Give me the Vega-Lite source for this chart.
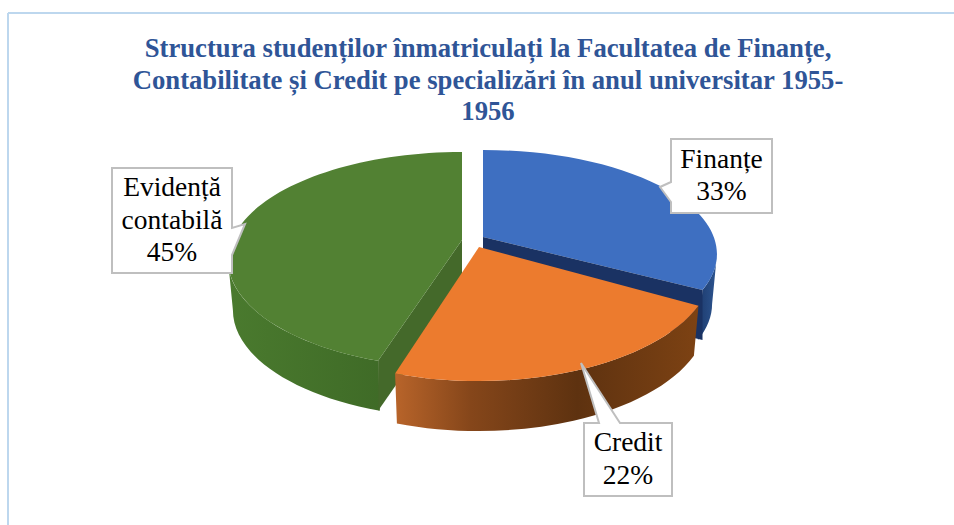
{
"$schema":"https://vega.github.io/schema/vega-lite/v6.json",
"width":946,"height":512,
"autosize":{"type":"none"},
"padding":{"left":8,"top":13,"right":0,"bottom":0},
"background":"white",
"config":{"view":{"stroke":null}},
"title":{"text":["Structura studenților înmatriculați la Facultatea de Finanțe,","Contabilitate și Credit pe specializări în anul universitar 1955-","1956"],
"font":"Liberation Serif","fontWeight":"bold","fontSize":26.7,"color":"#2F5597","lineHeight":31.5,"anchor":"middle","frame":"group","baseline":"alphabetic","offset":0,"dx":7,"dy":135},
"data":{"values":[{"label":"Finanțe","value":33},{"label":"Credit","value":22},{"label":"Evidență contabilă","value":45}]},
"transform":[
{"joinaggregate":[{"op":"sum","field":"value","as":"total"}]},
{"window":[{"op":"sum","field":"value","as":"cum"}]},
{"calculate":"(datum.cum-datum.value)/datum.total*2*PI","as":"a1"},
{"calculate":"datum.cum/datum.total*2*PI","as":"a2"},
{"calculate":"datum.a1-0.17*sin(datum.a1)","as":"t1"},
{"calculate":"datum.a2-0.17*sin(datum.a2)","as":"t2"},
{"calculate":"datum.label=='Finanțe'?483:datum.label=='Credit'?479:462","as":"cx"},
{"calculate":"datum.label=='Finanțe'?254:datum.label=='Credit'?266:260","as":"cy"},
{"calculate":"datum.label=='Finanțe'?104:datum.label=='Credit'?115:108","as":"ry"},
{"calculate":"datum.label=='Finanțe'?-17:datum.label=='Credit'?-19:-20","as":"ay"},
{"calculate":"datum.cx-8","as":"sx"},
{"calculate":"datum.cy-13","as":"sy"},
{"calculate":"round(234*sin(datum.t1)*10)/10","as":"x1"},
{"calculate":"round(-datum.ry*cos(datum.t1)*10)/10","as":"y1"},
{"calculate":"round(234*sin(datum.t2)*10)/10","as":"x2"},
{"calculate":"round(-datum.ry*cos(datum.t2)*10)/10","as":"y2"},
{"calculate":"datum.t2-datum.t1>PI?1:0","as":"large"},
{"calculate":"'M 0 '+datum.ay+' L '+datum.x1+' '+datum.y1+' A 234 '+datum.ry+' 0 '+datum.large+' 1 '+datum.x2+' '+datum.y2+' Z'","as":"topPath"},
{"calculate":"max(datum.t1,PI/2)","as":"w1"},
{"calculate":"min(datum.t2,3*PI/2)","as":"w2"},
{"calculate":"round(234*sin(datum.w1)*10)/10","as":"wx1"},
{"calculate":"round(-datum.ry*cos(datum.w1)*10)/10","as":"wy1"},
{"calculate":"round(234*sin(datum.w2)*10)/10","as":"wx2"},
{"calculate":"round(-datum.ry*cos(datum.w2)*10)/10","as":"wy2"},
{"calculate":"'M '+datum.wx1+' '+datum.wy1+' A 234 '+datum.ry+' 0 0 1 '+datum.wx2+' '+datum.wy2+' L '+round(datum.wx2*9.79)/10+' '+(datum.wy2+50)+' A 229 '+datum.ry+' 0 0 0 '+round(datum.wx1*9.79)/10+' '+(datum.wy1+50)+' Z'","as":"wallPath"},
{"calculate":"datum.label=='Finanțe'?datum.x2:datum.x1","as":"ex"},
{"calculate":"datum.label=='Finanțe'?datum.y2:datum.y1","as":"ey"},
{"calculate":"'M 0 '+datum.ay+' L '+datum.ex+' '+datum.ey+' L '+datum.ex+' '+(datum.ey+50)+' L 0 '+(datum.ay+50)+' Z'","as":"cutPath"},
{"calculate":"datum.sx+(datum.label=='Finanțe'?238.5:datum.label=='Credit'?149:-290)","as":"lx"},
{"calculate":"datum.sy+(datum.label=='Finanțe'?-78:datum.label=='Credit'?193.5:-39.5)","as":"ly"},
{"calculate":"datum.label=='Finanțe'?'M -50.5 -37 H 50.5 V 37 H -50.5 V 26 L -61.5 11 L -50.5 6 Z':datum.label=='Credit'?'M -44 -36.5 L -29 -36.5 L -47 -96.5 L -8 -36.5 H 44 V 36.5 H -44 Z':'M -60 -52.5 H 60 V 7.5 L 73 3.5 L 60 34.5 V 52.5 H -60 Z'","as":"boxPath"},
{"calculate":"replace(datum.label,' ','\\n')+'\\n'+datum.value+'%'","as":"txt"},
{"calculate":"datum.ly-(length(split(datum.txt,'\\n'))-1)*16.25","as":"ty"}
],
"encoding":{
"x":{"field":"sx","type":"quantitative","scale":null},
"y":{"field":"sy","type":"quantitative","scale":null}
},
"layer":[
{"transform":[{"filter":"datum.label=='Finanțe'"}],"mark":{"type":"rule","stroke":"#BDD7EE","strokeWidth":2},"encoding":{"x":{"value":0},"y":null}},
{"transform":[{"filter":"datum.label=='Finanțe'"}],"mark":{"type":"rule","stroke":"#BDD7EE","strokeWidth":2},"encoding":{"y":{"value":0},"x":null}},
{"transform":[{"filter":"datum.label=='Finanțe'"}],"mark":{"type":"point","filled":true,"opacity":1,"size":4,"fill":{"x1":0,"y1":0,"x2":1,"y2":0,"gradient":"linear","stops":[{"offset":0,"color":"#1D3B6E"},{"offset":1,"color":"#2D5590"}]}},"encoding":{"shape":{"field":"wallPath","type":"nominal","scale":null}}},
{"transform":[{"filter":"datum.label=='Finanțe'"}],"mark":{"type":"point","filled":true,"opacity":1,"size":4,"fill":"#3E6FC1"},"encoding":{"shape":{"field":"topPath","type":"nominal","scale":null}}},
{"transform":[{"filter":"datum.label=='Finanțe'"}],"mark":{"type":"point","filled":true,"opacity":1,"size":4,"fill":"#1A3263"},"encoding":{"shape":{"field":"cutPath","type":"nominal","scale":null}}},
{"transform":[{"filter":"datum.label!='Finanțe'&&datum.label!='Credit'"}],"mark":{"type":"point","filled":true,"opacity":1,"size":4,"fill":{"x1":0,"y1":0,"x2":1,"y2":0,"gradient":"linear","stops":[{"offset":0,"color":"#4A7A2E"},{"offset":1,"color":"#3F6B27"}]}},"encoding":{"shape":{"field":"wallPath","type":"nominal","scale":null}}},
{"transform":[{"filter":"datum.label!='Finanțe'&&datum.label!='Credit'"}],"mark":{"type":"point","filled":true,"opacity":1,"size":4,"fill":"#44692A"},"encoding":{"shape":{"field":"cutPath","type":"nominal","scale":null}}},
{"transform":[{"filter":"datum.label!='Finanțe'&&datum.label!='Credit'"}],"mark":{"type":"point","filled":true,"opacity":1,"size":4,"fill":"#528133"},"encoding":{"shape":{"field":"topPath","type":"nominal","scale":null}}},
{"transform":[{"filter":"datum.label=='Credit'"}],"mark":{"type":"point","filled":true,"opacity":1,"size":4,"fill":{"x1":0,"y1":0,"x2":1,"y2":0,"gradient":"linear","stops":[{"offset":0,"color":"#B8642A"},{"offset":0.25,"color":"#85461A"},{"offset":0.6,"color":"#5E3210"},{"offset":1,"color":"#7D4213"}]}},"encoding":{"shape":{"field":"wallPath","type":"nominal","scale":null}}},
{"transform":[{"filter":"datum.label=='Credit'"}],"mark":{"type":"point","filled":true,"opacity":1,"size":4,"fill":"#EC7B2E"},"encoding":{"shape":{"field":"topPath","type":"nominal","scale":null}}},
{"mark":{"type":"point","filled":true,"opacity":1,"size":4,"fill":"white","stroke":"#BFBFBF","strokeWidth":2},"encoding":{"x":{"field":"lx","type":"quantitative","scale":null},"y":{"field":"ly","type":"quantitative","scale":null},"shape":{"field":"boxPath","type":"nominal","scale":null}}},
{"mark":{"type":"text","font":"Liberation Serif","fontSize":27.5,"lineHeight":32.5,"lineBreak":"\n","align":"center","baseline":"middle","color":"#000000"},"encoding":{"x":{"field":"lx","type":"quantitative","scale":null},"y":{"field":"ty","type":"quantitative","scale":null},"text":{"field":"txt","type":"nominal"}}}
]
}
